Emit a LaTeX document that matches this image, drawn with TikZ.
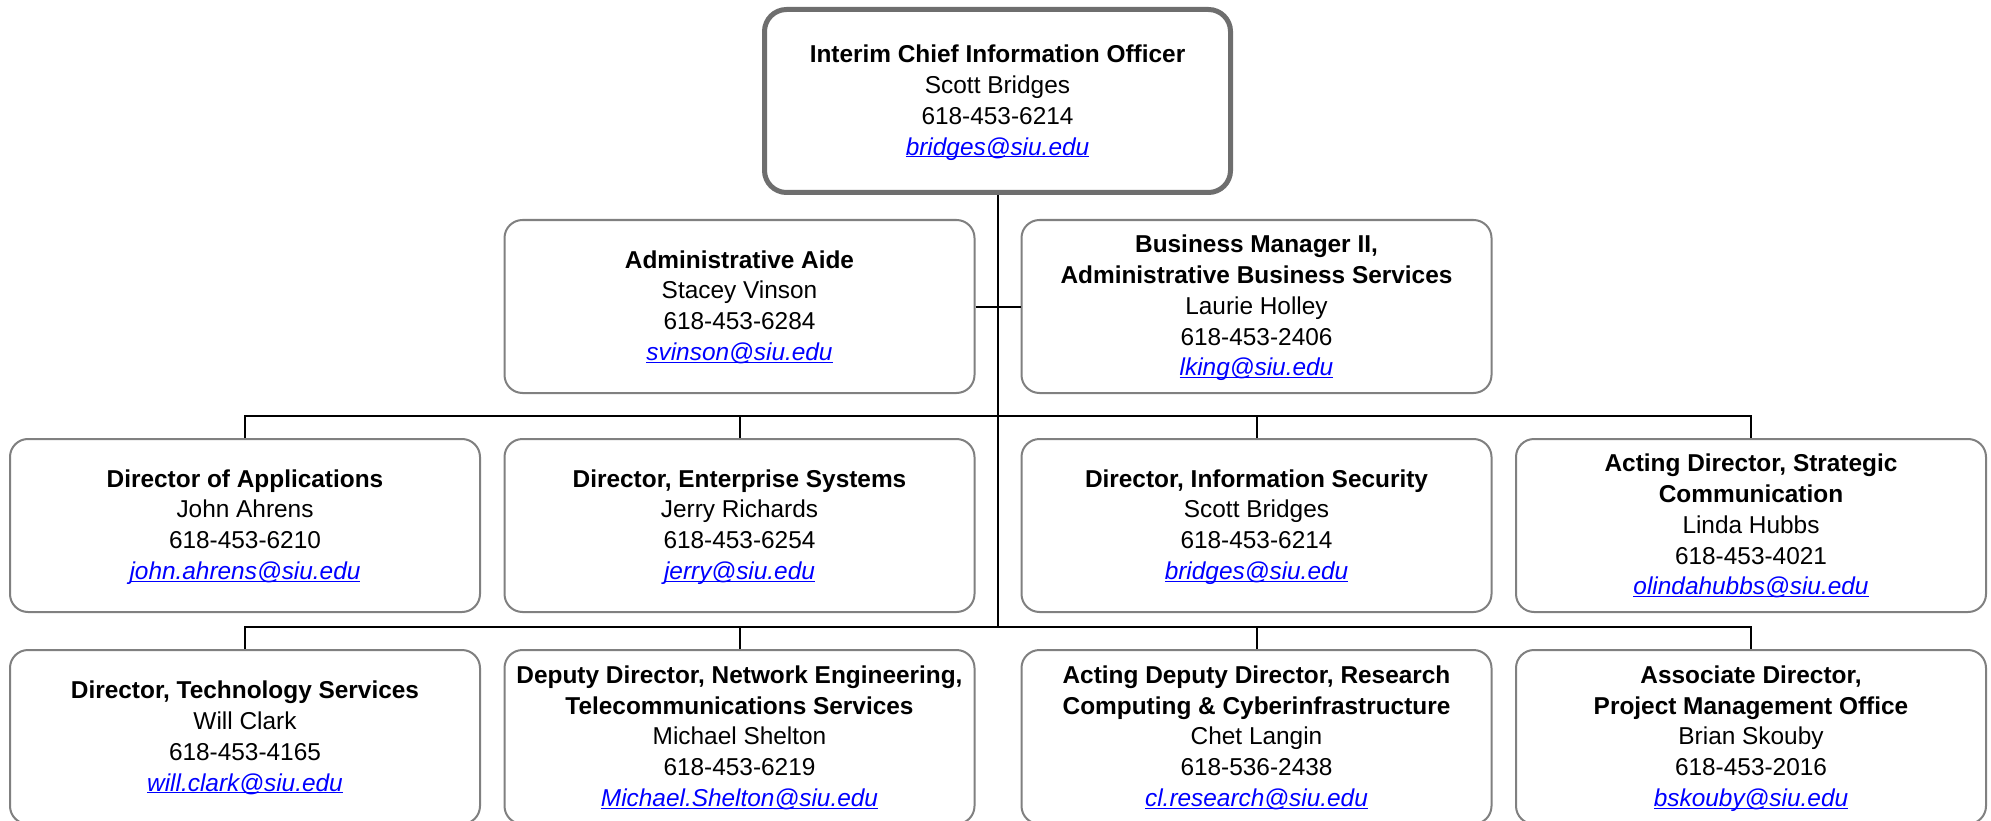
\documentclass[tikz,border=0pt]{standalone}
\usepackage{fontspec}
\setmainfont{Liberation Sans}
\usetikzlibrary{positioning}
\definecolor{linkblue}{RGB}{0,0,255}
\definecolor{boxgray}{RGB}{128,128,128}
\definecolor{topgray}{RGB}{110,110,110}
\newcommand{\eml}[1]{\textcolor{linkblue}{\underline{\smash{\textit{#1}}}}}
\tikzset{
  orgbox/.style={draw=boxgray, line width=2pt, rounded corners=18pt, fill=white,
    minimum width=470pt, minimum height=173pt, inner sep=0pt, align=center,
    font=\fontsize{24.4}{30.8}\selectfont},
  topbox/.style={orgbox, draw=topgray, line width=5pt, rounded corners=22pt,
    minimum width=466pt, minimum height=183pt},
  lowbox/.style={orgbox, minimum height=174pt},
  conn/.style={draw=black, line width=2pt}
}
\begin{document}
\begin{tikzpicture}[x=1pt,y=-1pt]
\useasboundingbox (0,0) rectangle (1991,821);
\begin{scope}
\clip (0,0) rectangle (1991,821);
% top
\node[topbox] (cio) at (997.5,101) {\textbf{Interim Chief Information Officer}\\Scott Bridges\\618-453-6214\\\eml{bridges@siu.edu}};
% staff row
\node[orgbox] (aide) at (739.5,306.5) {\textbf{Administrative Aide}\\Stacey Vinson\\618-453-6284\\\eml{svinson@siu.edu}};
\node[orgbox] (biz) at (1256.5,306.5) {\textbf{Business Manager II,}\\\textbf{Administrative Business Services}\\Laurie Holley\\618-453-2406\\\eml{lking@siu.edu}};
% row 2
\node[orgbox] (app) at (245,525.5) {\textbf{Director of Applications}\\John Ahrens\\618-453-6210\\\eml{john.ahrens@siu.edu}};
\node[orgbox] (ent) at (739.5,525.5) {\textbf{Director, Enterprise Systems}\\Jerry Richards\\618-453-6254\\\eml{jerry@siu.edu}};
\node[orgbox] (sec) at (1256.5,525.5) {\textbf{Director, Information Security}\\Scott Bridges\\618-453-6214\\\eml{bridges@siu.edu}};
\node[orgbox] (com) at (1751,525.5) {\textbf{Acting Director, Strategic}\\\textbf{Communication}\\Linda Hubbs\\618-453-4021\\\eml{olindahubbs@siu.edu}};
% row 3
\node[lowbox] (tech) at (245,737) {\textbf{Director, Technology Services}\\Will Clark\\618-453-4165\\\eml{will.clark@siu.edu}};
\node[lowbox] (net) at (739.5,737) {\textbf{Deputy Director, Network Engineering,}\\\textbf{Telecommunications Services}\\Michael Shelton\\618-453-6219\\\eml{Michael.Shelton@siu.edu}};
\node[lowbox] (res) at (1256.5,737) {\textbf{Acting Deputy Director, Research}\\\textbf{Computing \& Cyberinfrastructure}\\Chet Langin\\618-536-2438\\\eml{cl.research@siu.edu}};
\node[lowbox] (pmo) at (1751,737) {\textbf{Associate Director,}\\\textbf{Project Management Office}\\Brian Skouby\\618-453-2016\\\eml{bskouby@siu.edu}};
\end{scope}
% connectors
\coordinate (busA) at (997.5,416);
\coordinate (busB) at (997.5,627);
\draw[conn] (cio.south) -- (busB);
\draw[conn] (aide.east) -- (biz.west);
\draw[conn] (app.north) -- (app.north |- busA) -- (com.north |- busA) -- (com.north);
\draw[conn] (ent.north) -- (ent.north |- busA);
\draw[conn] (sec.north) -- (sec.north |- busA);
\draw[conn] (tech.north) -- (tech.north |- busB) -- (pmo.north |- busB) -- (pmo.north);
\draw[conn] (net.north) -- (net.north |- busB);
\draw[conn] (res.north) -- (res.north |- busB);
\end{tikzpicture}
\end{document}
